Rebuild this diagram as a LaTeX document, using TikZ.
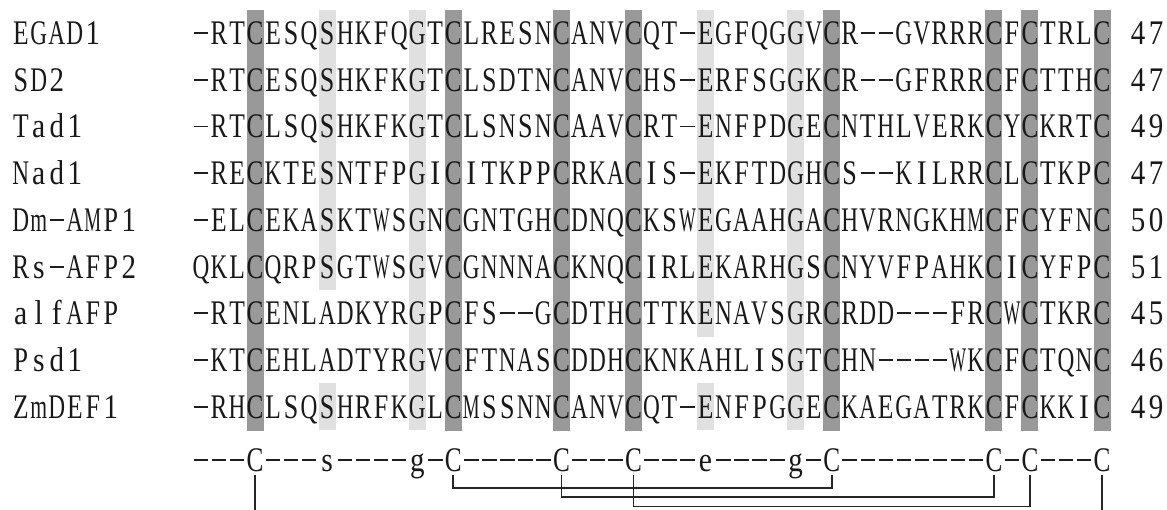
\documentclass[tikz,border=0pt]{standalone}
\usepackage{fontspec}
\newfontfamily\seqfont{Liberation Serif}
\makeatletter
\newcount\seqcol
\newsavebox\seqbox
\newdimen\seqw
\newdimen\seqt
\newdimen\seqa
\def\seqdash{-}
% condensed glyph: width = min(16.8pt, max(0.74w, min(0.86w, 14.5pt)))
\newcommand\fitch[1]{%
  \sbox\seqbox{#1}%
  \seqw=\wd\seqbox
  \seqt=14.5pt
  \seqa=0.86\seqw
  \ifdim\seqt>\seqa \seqt=\seqa\fi
  \seqa=0.74\seqw
  \ifdim\seqt<\seqa \seqt=\seqa\fi
  \ifdim\seqt>16.8pt \seqt=16.8pt\fi
  \resizebox{\seqt}{\height}{\usebox\seqbox}}
% #1 node prefix, #2 baseline y, #3 start column, #4 characters
\newcommand\seqrow[4]{%
  \global\seqcol=#3\relax
  \@tfor\seqch:=#4\do{%
    \ifx\seqch\seqdash
      \node[dashch] (#1-\the\seqcol) at ({182.99+18.02*(\the\seqcol)},#2) {\rule[10.5pt]{14.5pt}{1.8pt}};%
    \else
      \node[seqch] (#1-\the\seqcol) at ({182.99+18.02*(\the\seqcol)},#2) {\fitch{\seqch}};%
    \fi
    \global\advance\seqcol by 1\relax
  }}
\makeatother
\tikzset{
  seqch/.style={inner sep=0pt, anchor=base, text=black!90,
    font=\seqfont\fontsize{34.5}{42}\selectfont},
  dashch/.style={inner sep=0pt, anchor=base, text=black!88},
  darkcol/.style={fill=black!40, draw=none},
  lightcol/.style={fill=black!12, draw=none},
  bond/.style={draw=black!85, line width=1.6pt, shorten <=3pt, shorten >=3pt},
  stub/.style={draw=black!85, line width=1.6pt, shorten <=3pt}
}
\begin{document}
\begin{tikzpicture}[x=1pt,y=-1pt]
\useasboundingbox[fill=white] (0,0) rectangle (1167,509);
% dark shaded columns (conserved cysteines)
\foreach \c in {4,15,21,25,36,45,47,51}{
  \fill[darkcol] ({182.99+18.02*\c-8.5},9.6) rectangle ({182.99+18.02*\c+8.5},430.8);
}
% light shaded cells
\foreach \c/\ra/\rb in {8/1/6, 8/9/9, 13/1/9, 29/1/7, 29/9/9, 34/1/9}{
  \fill[lightcol] ({182.99+18.02*\c-8.5},{9.6+46.7*(\ra-1)}) rectangle ({182.99+18.02*\c+8.5},{9.6+46.7*\rb});
}
% names
\seqrow{n1}{44.5}{-9}{EGAD1}
\seqrow{n2}{91.2}{-9}{SD2}
\seqrow{n3}{137.9}{-9}{Tad1}
\seqrow{n4}{184.6}{-9}{Nad1}
\seqrow{n5}{231.3}{-9}{Dm-AMP1}
\seqrow{n6}{278.0}{-9}{Rs-AFP2}
\seqrow{n7}{324.7}{-9}{alfAFP}
\seqrow{n8}{371.4}{-9}{Psd1}
\seqrow{n9}{418.1}{-9}{ZmDEF1}
% sequences
\seqrow{s1}{44.5}{1}{-RTCESQSHKFQGTCLRESNCANVCQT-EGFQGGVCR--GVRRRCFCTRLC}
\seqrow{s2}{91.2}{1}{-RTCESQSHKFKGTCLSDTNCANVCHS-ERFSGGKCR--GFRRRCFCTTHC}
\seqrow{s3}{137.9}{1}{-RTCLSQSHKFKGTCLSNSNCAAVCRT-ENFPDGECNTHLVERKCYCKRTC}
\seqrow{s4}{184.6}{1}{-RECKTESNTFPGICITKPPCRKACIS-EKFTDGHCS--KILRRCLCTKPC}
\seqrow{s5}{231.3}{1}{-ELCEKASKTWSGNCGNTGHCDNQCKSWEGAAHGACHVRNGKHMCFCYFNC}
\seqrow{s6}{278.0}{1}{QKLCQRPSGTWSGVCGNNNACKNQCIRLEKARHGSCNYVFPAHKCICYFPC}
\seqrow{s7}{324.7}{1}{-RTCENLADKYRGPCFS--GCDTHCTTKENAVSGRCRDD---FRCWCTKRC}
\seqrow{s8}{371.4}{1}{-KTCEHLADTYRGVCFTNASCDDHCKNKAHLISGTCHN----WKCFCTQNC}
\seqrow{s9}{418.1}{1}{-RHCLSQSHRFKGLCMSSNNCANVCQT-ENFPGGECKAEGATRKCFCKKIC}
% lengths
\seqrow{l1}{44.5}{53}{47}
\seqrow{l2}{91.2}{53}{47}
\seqrow{l3}{137.9}{53}{49}
\seqrow{l4}{184.6}{53}{47}
\seqrow{l5}{231.3}{53}{50}
\seqrow{l6}{278.0}{53}{51}
\seqrow{l7}{324.7}{53}{45}
\seqrow{l8}{371.4}{53}{46}
\seqrow{l9}{418.1}{53}{49}
% consensus
\seqrow{k}{471}{1}{---C---s----g-C-----C---C---e----g-C--------C-C---C}
% disulfide bonds
\coordinate (lv1) at (0,488);
\coordinate (lv2) at (0,497);
\coordinate (lv3) at (0,506.5);
\coordinate (lbot) at (0,510);
\draw[stub] (k-4.south) -- (k-4.south |- lbot);
\draw[stub] (k-51.south) -- (k-51.south |- lbot);
\draw[bond] (k-15.south) |- (lv1 -| k-36.south) -- (k-36.south);
\draw[bond] (k-21.south) |- (lv2 -| k-45.south) -- (k-45.south);
\draw[bond] (k-25.south) |- (lv3 -| k-47.south) -- (k-47.south);
\end{tikzpicture}
\end{document}
